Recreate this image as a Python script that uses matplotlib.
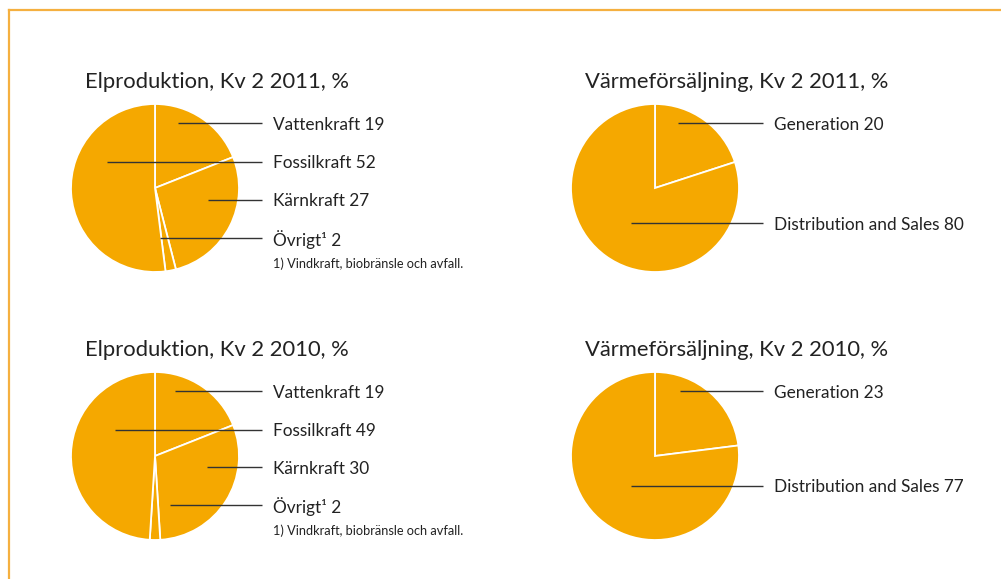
import matplotlib
matplotlib.use("Agg")
import matplotlib.pyplot as plt

# ---- data ----
el_labels = ["Vattenkraft", "Kärnkraft", "Övrigt¹", "Fossilkraft"]
el_2011 = [19, 27, 2, 52]
el_2010 = [19, 30, 2, 49]

heat_labels = ["Generation", "Distribution and Sales"]
heat_2011 = [20, 80]
heat_2010 = [23, 77]

footnote = "1) Vindkraft, biobränsle och avfall."

ORANGE = "#F5A800"
FRAME = "#F5B040"
LINE = "#333333"
TEXT = "#222222"
FONT = "Lato"

W, H = 1001, 579
fig = plt.figure(figsize=(W / 100, H / 100), dpi=100)
ax = fig.add_axes([0, 0, 1, 1])


def Y(y):
    # convert pixel row (top down) to data y
    return H - y


def draw_pie(values, cx, cy, r=84):
    ax.pie(values, colors=[ORANGE] * len(values), startangle=90, counterclock=False,
           center=(cx, Y(cy)), radius=r,
           wedgeprops=dict(edgecolor="white", linewidth=1.3))


def label(text, x0, y, x_text=None):
    # leader line from inside the pie to the label
    ax.plot([x0, x_text - 11], [Y(y), Y(y)], color=LINE, lw=1.0, solid_capstyle="butt")
    ax.text(x_text, Y(y + 1.5), text, fontsize=12.4, family=FONT, color=TEXT, va="center", ha="left")


def el_block(vals, cy, title, ys, xs):
    ax.text(85, Y(cy - 106), title, fontsize=15.8, family=FONT, color=TEXT, va="center")
    draw_pie(vals, 155, cy)
    # order in legend: Vattenkraft, Fossilkraft, Kärnkraft, Övrigt
    order = [0, 3, 1, 2]
    for k, idx in enumerate(order):
        label(f"{el_labels[idx]} {vals[idx]}", xs[k], ys[k], x_text=273)
    ax.text(273, Y(ys[-1] + 26), footnote, fontsize=9.2, family=FONT, color=TEXT, va="center")


def heat_block(vals, cy, title, ys, xs):
    ax.text(585, Y(cy - 106), title, fontsize=15.8, family=FONT, color=TEXT, va="center")
    draw_pie(vals, 655, cy)
    for k in range(2):
        label(f"{heat_labels[k]} {vals[k]}", xs[k], ys[k], x_text=774)


el_block(el_2011, 188, "Elproduktion, Kv 2 2011, %", [123, 162, 200, 238], [178, 107, 208, 160])
el_block(el_2010, 456, "Elproduktion, Kv 2 2010, %", [391, 430, 467, 505], [175, 115, 207, 170])
heat_block(heat_2011, 188, "Värmeförsäljning, Kv 2 2011, %", [123, 223], [678, 631])
heat_block(heat_2010, 456, "Värmeförsäljning, Kv 2 2010, %", [391, 486], [680, 631])

# frame (top and left edges visible)
ax.plot([8.5, W], [Y(9.5), Y(9.5)], color=FRAME, lw=1.6)
ax.plot([8.5, 8.5], [Y(9.5), 0], color=FRAME, lw=1.6)

ax.set_xlim(0, W)
ax.set_ylim(0, H)
ax.set_aspect("auto")
ax.axis("off")

fig.savefig("out.png", dpi=100, facecolor="white")
